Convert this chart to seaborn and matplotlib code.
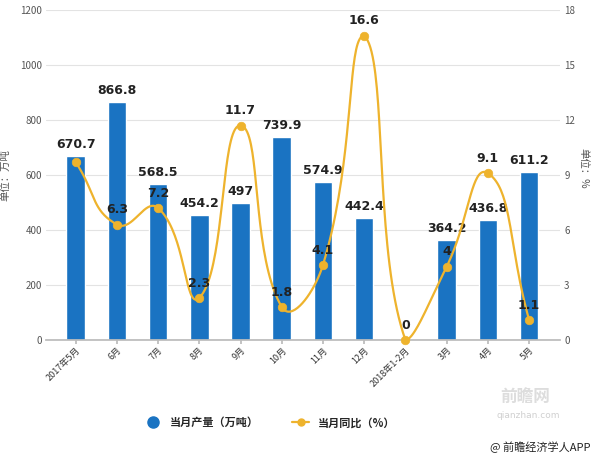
import numpy as np
import pandas as pd
import matplotlib
matplotlib.use("Agg")
import matplotlib.pyplot as plt
import seaborn as sns
from matplotlib.lines import Line2D

categories = ["2017年5月", "6月", "7月", "8月", "9月", "10月", "11月", "12月",
              "2018年1-2月", "3月", "4月", "5月"]
output_vals = [670.7, 866.8, 568.5, 454.2, 497, 739.9, 574.9, 442.4, 0, 364.2, 436.8, 611.2]
yoy_vals = [9.7, 6.3, 7.2, 2.3, 11.7, 1.8, 4.1, 16.6, 0, 4, 9.1, 1.1]
yoy_labels = ["", "6.3", "7.2", "2.3", "11.7", "1.8", "4.1", "16.6", "0", "4", "9.1", "1.1"]
bar_labels = ["670.7", "866.8", "568.5", "454.2", "497", "739.9", "574.9", "442.4", "", "364.2", "436.8", "611.2"]
left_ticks = [0, 200, 400, 600, 800, 1000, 1200]
right_ticks = [0, 3, 6, 9, 12, 15, 18]

sns.set_theme(style="white")
plt.rcParams['font.family'] = ['Noto Sans CJK SC', 'DejaVu Sans']

BLUE = "#1a73c2"
GOLD = "#eeb32d"
GRID = "#e3e3e3"
TICK = "#555555"

df = pd.DataFrame({"cat": categories, "val": output_vals})

W, H = 600, 457
L, R, T, B = 46, 560, 10, 340
fig = plt.figure(figsize=(6, 4.57), dpi=100)
ax = fig.add_axes([L / W, 1 - B / H, (R - L) / W, (B - T) / H])
sns.barplot(data=df, x="cat", y="val", order=categories, color=BLUE, width=0.45,
            saturation=1, ax=ax, zorder=2)
ax.set_ylim(0, 1200)
ax.set_xlim(-0.72, 11.75)
ax.set_yticks(left_ticks)
ax.set_yticklabels([str(t) for t in left_ticks], fontsize=7, color=TICK)
ax.yaxis.grid(True, color=GRID, linewidth=0.8, zorder=0)
ax.set_axisbelow(True)
ax.set_xlabel("")
ax.set_ylabel("单位：万吨", fontsize=7.5, color=TICK)
ax.yaxis.set_label_coords(-0.07, 0.5)
for s in ["top", "right", "left"]:
    ax.spines[s].set_visible(False)
ax.spines["bottom"].set_color("#bbbbbb")
ax.tick_params(axis="y", length=0, pad=3)
ax.tick_params(axis="x", length=3, color="#bbbbbb", pad=1, bottom=True)
ax.set_xticks(range(len(categories)))
ax.set_xticklabels(categories, rotation=45, ha="right", rotation_mode="anchor",
                   fontsize=6.5, color="#333333")

for i, (v, lab) in enumerate(zip(output_vals, bar_labels)):
    if lab:
        ax.text(i, v + 18, lab, ha="center", va="bottom", fontsize=9,
                fontweight="bold", color="#222222", family=['DejaVu Sans'], zorder=5)

ax2 = ax.twinx()
ax2.set_ylim(0, 18)
ax2.set_yticks(right_ticks)
ax2.set_yticklabels([str(t) for t in right_ticks], fontsize=7, color=TICK)
ax2.tick_params(axis="y", length=0, pad=3)
for s in ["top", "right", "left", "bottom"]:
    ax2.spines[s].set_visible(False)
ax2.set_ylabel("单位：%", fontsize=7.5, color=TICK, rotation=-90)
ax2.yaxis.set_label_coords(1.055, 0.52)
ax2.grid(False)

# smooth curve (bezier, distance-weighted control points clamped to data range)
xs = np.arange(len(yoy_vals), dtype=float)
ys = np.array(yoy_vals, dtype=float)
px_x = (R - L) / (11.75 + 0.72)
px_y = (B - T) / 18.0
P = np.column_stack([xs * px_x, ys * px_y])
n = len(P)
sm = 0.5
ymin, ymax = P[:, 1].min(), P[:, 1].max()
cp_in = [None] * n
cp_out = [None] * n
for i in range(n):
    prv = P[i - 1] if i > 0 else P[i]
    nxt = P[i + 1] if i < n - 1 else P[i]
    v = nxt - prv
    d0 = np.hypot(*(P[i] - prv))
    d1 = np.hypot(*(nxt - P[i]))
    r = d1 / (d0 + d1) if d0 + d1 > 0 else 0.5
    ci = P[i] - v * sm * (1 - r)
    co = P[i] + v * sm * r
    ci[1] = min(max(ci[1], ymin), ymax)
    co[1] = min(max(co[1], ymin), ymax)
    cp_in[i], cp_out[i] = ci, co
t = np.linspace(0, 1, 40)[:, None]
cx, cy = [], []
for i in range(n - 1):
    p0, c1, c2, p3 = P[i], cp_out[i], cp_in[i + 1], P[i + 1]
    b = (1 - t) ** 3 * p0 + 3 * (1 - t) ** 2 * t * c1 + 3 * (1 - t) * t ** 2 * c2 + t ** 3 * p3
    cx.extend(b[:, 0] / px_x); cy.extend(b[:, 1] / px_y)
ax2.plot(cx, cy, color=GOLD, linewidth=1.6, zorder=3, clip_on=False)
sns.scatterplot(x=xs, y=ys, color=GOLD, s=38, edgecolor=GOLD, ax=ax2, zorder=4,
                clip_on=False, legend=False)
for i, (v, lab) in enumerate(zip(yoy_vals, yoy_labels)):
    if lab:
        ax2.text(i, v + 0.45, lab, ha="center", va="bottom", fontsize=9,
                 fontweight="bold", color="#222222", family=['DejaVu Sans'], zorder=6)

handles = [
    Line2D([0], [0], marker="o", color="none", markerfacecolor=BLUE, markeredgecolor=BLUE,
           markersize=8),
    Line2D([0], [0], marker="o", color=GOLD, markerfacecolor=GOLD, markeredgecolor=GOLD,
           markersize=5, linewidth=1.6),
]
fig.legend(handles, ["当月产量（万吨）", "当月同比（%）"], loc="center",
           bbox_to_anchor=(0.45, 0.075), ncol=2, frameon=False,
           prop={"weight": "bold", "size": 8}, handlelength=1.5, columnspacing=3)

fig.text(525 / W, 1 - 397 / H, "前瞻网", fontsize=12, color="#dddddd", ha="center",
         va="center", fontweight="bold")
fig.text(528 / W, 1 - 416 / H, "qianzhan.com", fontsize=6.5, color="#d0d0d0",
         ha="center", va="center", family=["DejaVu Sans"])
fig.text(0.985, 0.022, "@ 前瞻经济学人APP", fontsize=8, color="#222222", ha="right",
         va="center")

fig.savefig("out.png", dpi=100)
